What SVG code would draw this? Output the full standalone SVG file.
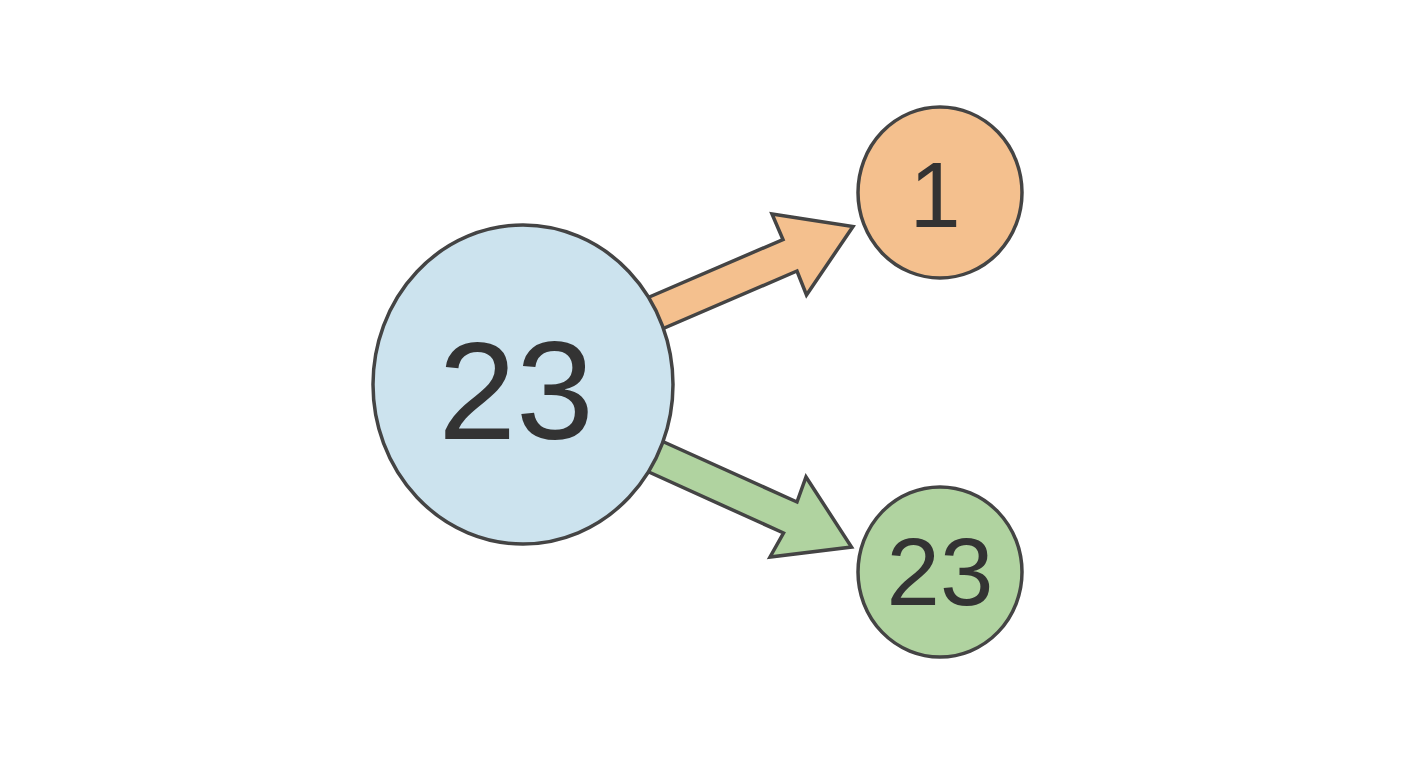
<svg xmlns="http://www.w3.org/2000/svg" width="1408" height="768" viewBox="0 0 1408 768">
<style>
.node{stroke:#444;stroke-width:3.5}
.arrow{stroke:#444;stroke-width:3.5;stroke-linejoin:miter}
.lbl{font-family:"Liberation Sans",Arial,sans-serif;fill:#333;text-anchor:middle}
</style>
<rect width="1408" height="768" fill="#fff"/>
<g id="connectors">
<polygon class="arrow" fill="#f4c08e" points="640,301 783,239.5 772,214 853,226.5 806.5,295 797,271 655,332"/>
<polygon class="arrow" fill="#b0d3a0" points="655,438 797,502 806,477 851.5,547 770,557 783.5,533 640,468"/>
</g>
<g id="node-source">
<ellipse class="node" cx="523" cy="384.5" rx="150" ry="159.5" fill="#cce3ee"/>
<text class="lbl" x="516" y="439" font-size="140">23</text>
</g>
<g id="node-1">
<ellipse class="node" cx="940" cy="192.5" rx="82" ry="85.5" fill="#f4c08e"/>
<text class="lbl" x="935" y="227" font-size="92">1</text>
</g>
<g id="node-23">
<ellipse class="node" cx="940" cy="572" rx="82" ry="85" fill="#b0d3a0"/>
<text class="lbl" x="940" y="605" font-size="96">23</text>
</g>
</svg>
